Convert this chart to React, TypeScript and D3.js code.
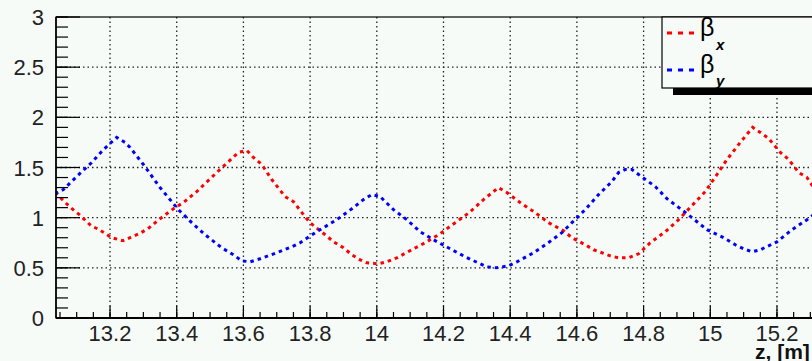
import React from "react";
import * as d3 from "d3";

// beta_x (red)
const zX = [
  13.035, 13.082, 13.108, 13.143, 13.168, 13.205, 13.239, 13.287, 13.314, 13.35,
  13.395, 13.42, 13.46, 13.52, 13.585, 13.61, 13.63, 13.655, 13.685, 13.725,
  13.75, 13.78, 13.8, 13.845, 13.87, 13.9, 13.925, 13.95, 13.97, 14.005,
  14.03, 14.06, 14.105, 14.15, 14.19, 14.235, 14.277, 14.32, 14.365, 14.39,
  14.43, 14.475, 14.515, 14.56, 14.585, 14.625, 14.65, 14.7, 14.725, 14.755,
  14.785, 14.82, 14.865, 14.905, 14.945, 14.985, 15.02, 15.05, 15.09, 15.127,
  15.15, 15.175, 15.21, 15.235, 15.265, 15.29, 15.31,
];
const betaX = [
  1.25, 1.1, 1.03, 0.92, 0.88, 0.8, 0.77, 0.84, 0.89, 0.99,
  1.1, 1.15, 1.26, 1.45, 1.65, 1.67, 1.6, 1.53, 1.38, 1.21,
  1.16, 1.03, 0.95, 0.83, 0.76, 0.7, 0.63, 0.58, 0.55, 0.54,
  0.56, 0.6, 0.68, 0.76, 0.84, 0.95, 1.05, 1.18, 1.3, 1.25,
  1.15, 1.05, 0.95, 0.87, 0.8, 0.73, 0.68, 0.62, 0.6, 0.6,
  0.64, 0.75, 0.86, 0.98, 1.12, 1.26, 1.43, 1.58, 1.75, 1.9,
  1.85, 1.79, 1.65, 1.58, 1.45, 1.4, 1.3,
];

// beta_y (blue)
const zY = [
  13.035, 13.06, 13.1, 13.145, 13.175, 13.2, 13.22, 13.245, 13.26, 13.3,
  13.35, 13.405, 13.445, 13.485, 13.535, 13.57, 13.595, 13.62, 13.65, 13.7,
  13.745, 13.77, 13.815, 13.84, 13.88, 13.93, 13.96, 13.985, 14.01, 14.05,
  14.09, 14.13, 14.17, 14.22, 14.265, 14.31, 14.33, 14.36, 14.395, 14.42,
  14.47, 14.51, 14.555, 14.585, 14.625, 14.665, 14.705, 14.725, 14.745, 14.765,
  14.785, 14.835, 14.87, 14.91, 14.945, 14.99, 15.04, 15.075, 15.1, 15.125,
  15.15, 15.2, 15.245, 15.29, 15.31,
];
const betaY = [
  1.24, 1.28, 1.41, 1.55, 1.66, 1.74, 1.8, 1.75, 1.7, 1.53,
  1.3, 1.08, 0.95, 0.83, 0.7, 0.63, 0.57, 0.56, 0.59, 0.65,
  0.71, 0.75, 0.85, 0.9, 0.98, 1.1, 1.18, 1.23, 1.21, 1.08,
  0.98, 0.86, 0.78, 0.69, 0.61, 0.54, 0.51, 0.5, 0.52, 0.56,
  0.65, 0.74, 0.85, 0.95, 1.08, 1.23, 1.36, 1.45, 1.48, 1.48,
  1.43, 1.31, 1.19, 1.09, 1.0, 0.88, 0.8, 0.73, 0.69, 0.66,
  0.68, 0.76, 0.88, 0.98, 1.03,
];

const xMajor = [13.2, 13.4, 13.6, 13.8, 14, 14.2, 14.4, 14.6, 14.8, 15, 15.2];
const yMajor = [0, 0.5, 1, 1.5, 2, 2.5, 3];

const W = 812;
const H = 361;
const left = 56;
const top = 17;
const bottom = 318;
const bg = "#f7fbf8";
const font = "'Liberation Sans', Arial, sans-serif";

export default function App() {
  const x = d3.scaleLinear().domain([13.038, 15.32]).range([left, left + 761]);
  const y = d3.scaleLinear().domain([0, 3]).range([bottom, top]);
  const right = x.range()[1];

  const xMinor = d3.range(13.05, 15.32, 0.05);
  const yMinor = d3.range(0, 3.001, 0.1);

  const line = d3
    .line<[number, number]>()
    .x((d) => x(d[0]))
    .y((d) => y(d[1]));
  const redPts = zX.map((z, i) => [z, betaX[i]] as [number, number]);
  const bluePts = zY.map((z, i) => [z, betaY[i]] as [number, number]);

  return (
    <svg
      width={W}
      height={H}
      style={{ position: "fixed", left: 0, top: 0 }}
      fontFamily={font}
    >
      <defs>
        <clipPath id="plot">
          <rect x={left} y={top} width={right - left} height={bottom - top} />
        </clipPath>
      </defs>
      <rect width={W} height={H} fill={bg} />

      {/* grid */}
      <g stroke="#222" strokeWidth={1.3} strokeDasharray="1.5 3">
        {xMajor.map((v) => (
          <line key={"gx" + v} x1={x(v)} x2={x(v)} y1={top} y2={bottom} />
        ))}
        {yMajor.slice(1, -1).map((v) => (
          <line key={"gy" + v} x1={left} x2={right} y1={y(v)} y2={y(v)} />
        ))}
      </g>

      {/* curves */}
      <g clipPath="url(#plot)" fill="none" strokeWidth={3} strokeDasharray="3.5 4">
        <path d={line(redPts) ?? ""} stroke="#ff0000" />
        <path d={line(bluePts) ?? ""} stroke="#0000ff" />
      </g>

      {/* frame */}
      <rect x={left} y={top} width={right - left} height={bottom - top} fill="none" stroke="#000" strokeWidth={1.2} />
      <line x1={left} x2={right} y1={bottom} y2={bottom} stroke="#000" strokeWidth={2} />
      <line x1={left} x2={left} y1={top} y2={bottom} stroke="#000" strokeWidth={1.5} />

      {/* ticks */}
      <g stroke="#000" strokeWidth={1.2}>
        {xMinor.map((v) => (
          <line key={"xm" + v} x1={x(v)} x2={x(v)} y1={bottom} y2={bottom - 6} />
        ))}
        {xMajor.map((v) => (
          <line key={"xM" + v} x1={x(v)} x2={x(v)} y1={bottom} y2={bottom - 12} />
        ))}
        {yMinor.map((v) => (
          <line key={"ym" + v} x1={left} x2={left + 12} y1={y(v)} y2={y(v)} />
        ))}
        {yMajor.map((v) => (
          <line key={"yM" + v} x1={left} x2={left + 24} y1={y(v)} y2={y(v)} />
        ))}
      </g>

      {/* tick labels */}
      <g fill="#222" fontSize={22}>
        {xMajor.map((v) => (
          <text key={"xl" + v} x={x(v)} y={341} textAnchor="middle">
            {String(v)}
          </text>
        ))}
        {yMajor.map((v) => (
          <text key={"yl" + v} x={44} y={y(v) + 8} textAnchor="end">
            {String(v)}
          </text>
        ))}
      </g>
      <text x={755} y={359} fontSize={21} fontWeight="bold" fill="#111">
        z, [m]
      </text>

      {/* legend */}
      <rect x={673} y={88} width={200} height={7} fill="#000" />
      <rect x={662} y={top} width={200} height={71} fill={bg} stroke="#000" strokeWidth={1.2} />
      <line x1={667} x2={696} y1={33} y2={33} stroke="#ff0000" strokeWidth={3} strokeDasharray="5 6" />
      <line x1={667} x2={696} y1={70} y2={70} stroke="#0000ff" strokeWidth={3} strokeDasharray="5 6" />
      <text x={700} y={36} fontSize={25} fill="#000">β</text>
      <text x={716} y={50} fontSize={15} fontStyle="italic" fontWeight="bold" fill="#000">x</text>
      <text x={700} y={73} fontSize={25} fill="#000">β</text>
      <text x={716} y={86} fontSize={15} fontStyle="italic" fontWeight="bold" fill="#000">y</text>
    </svg>
  );
}
